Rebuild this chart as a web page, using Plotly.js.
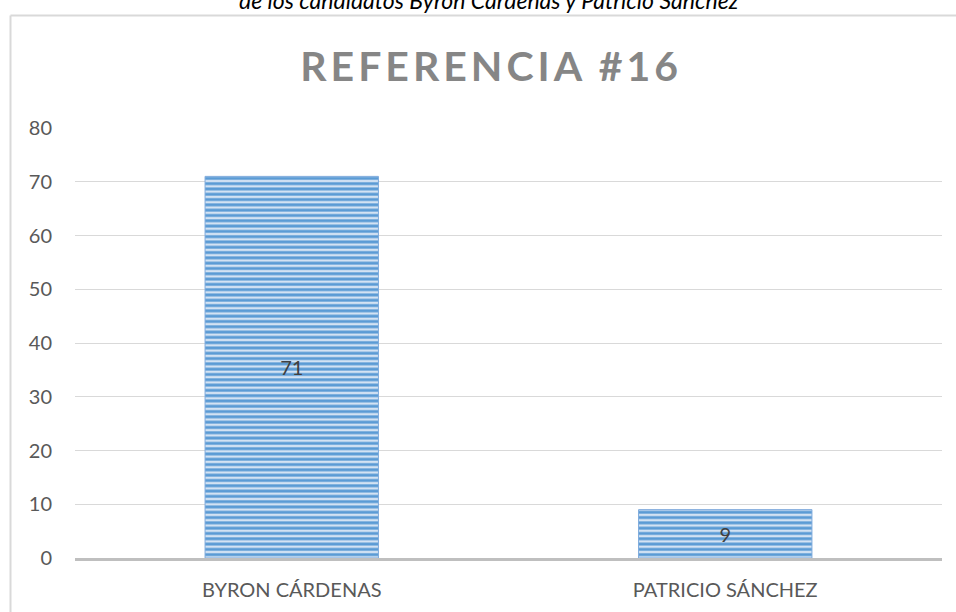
<!DOCTYPE html>
<html>
<head>
<meta charset="utf-8">
<script src="https://cdn.plot.ly/plotly-3.0.1.min.js"></script>
<style>
  body { margin: 0; background: #fff; }
  #chart { width: 956px; height: 612px; }
  .gtitle { letter-spacing: 4px; }
</style>
</head>
<body>
<div id="chart"></div>
<script>
var candidatos = ['BYRON CÁRDENAS', 'PATRICIO SÁNCHEZ'];
var votos = [71, 9];
var yTicks = [0, 10, 20, 30, 40, 50, 60, 70, 80];

var barras = {
  x: candidatos,
  y: votos,
  type: 'bar',
  text: votos.map(String),
  textposition: 'inside',
  insidetextanchor: 'middle',
  textfont: { family: 'Lato, sans-serif', size: 20, color: '#404040' },
  hoverinfo: 'x+y',
  marker: {
    color: '#d3e2f3',
    line: { color: '#7eaadc', width: 1 },
    pattern: { shape: '-', fgcolor: '#5b9bd5', bgcolor: '#d3e2f3', size: 5.3, solidity: 0.55, fillmode: 'replace' }
  }
};

var layout = {
  width: 956,
  height: 612,
  margin: { l: 75, r: 14, t: 128, b: 54 },
  paper_bgcolor: '#ffffff',
  plot_bgcolor: '#ffffff',
  showlegend: false,
  bargap: 0.6,
  font: { family: 'Lato, sans-serif', color: '#595959' },
  title: {
    text: '<b>REFERENCIA #16</b>',
    font: { family: 'Lato, sans-serif', size: 41, color: '#868686' },
    x: 0.480, xref: 'paper', xanchor: 'center',
    y: 0.8905, yref: 'container', yanchor: 'middle'
  },
  xaxis: {
    showgrid: false,
    showline: true,
    linecolor: '#bfbfbf',
    linewidth: 2.5,
    ticks: '',
    tickfont: { size: 20, color: '#595959' },
    ticklabelstandoff: 12
  },
  yaxis: {
    range: [0, 80],
    tickvals: yTicks,
    showgrid: true,
    gridcolor: '#d9d9d9',
    gridwidth: 1,
    zeroline: false,
    showline: false,
    ticks: '',
    tickfont: { size: 20, color: '#595959' },
    ticklabelstandoff: 22
  },
  shapes: [
    { type: 'line', xref: 'paper', yref: 'paper', x0: -0.0744, x1: -0.0744, y0: -0.2, y1: 1.2616,
      line: { color: '#d9d9d9', width: 2 } },
    { type: 'line', xref: 'paper', yref: 'paper', x0: -0.0744, x1: 1.1, y0: 1.2616, y1: 1.2616,
      line: { color: '#d9d9d9', width: 2 } }
  ],
  annotations: [
    { text: '<i>de los candidatos Byron Cárdenas y Patricio Sánchez</i>', xref: 'paper', yref: 'paper',
      x: 0.478, y: 1.2986, xanchor: 'center', yanchor: 'middle', showarrow: false,
      font: { family: 'Lato, sans-serif', size: 23, color: '#000000' } }
  ]
};

Plotly.newPlot('chart', [barras], layout, { displayModeBar: false });
</script>
</body>
</html>
